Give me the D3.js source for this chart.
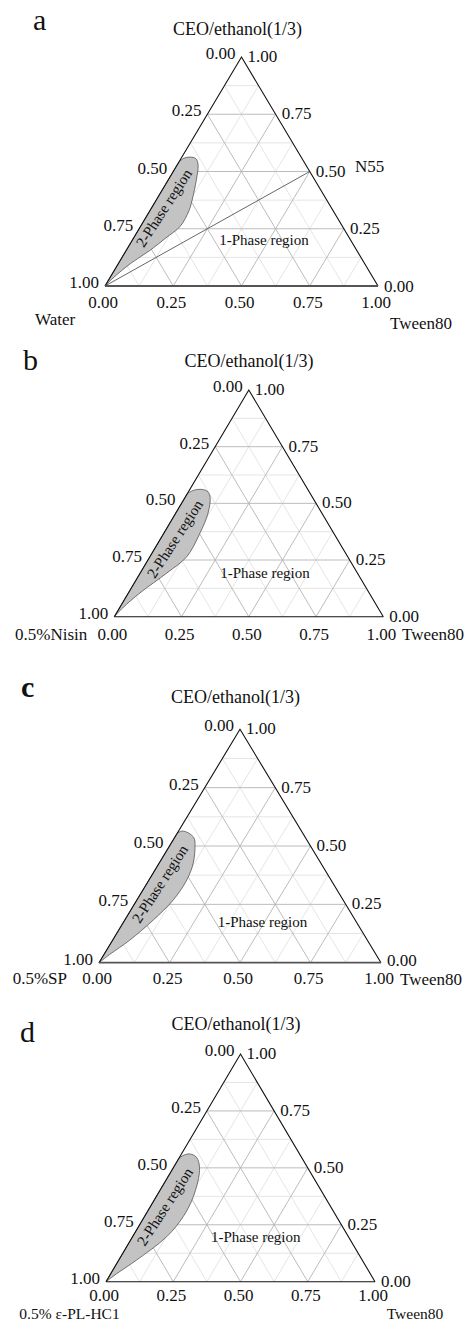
<!DOCTYPE html>
<html>
<head>
<meta charset="utf-8">
<script src="https://cdn.jsdelivr.net/npm/d3@7"></script>
<style>
  html, body { margin: 0; padding: 0; background: #fff; }
  svg text { font-family: "Liberation Serif", "Times New Roman", serif; fill: #111; }
</style>
</head>
<body>
<svg id="chart" width="471" height="1322"></svg>
<script>
// ---------------- DATA ----------------
const panelLetters = ["a", "b", "c", "d"];
const topComponent = "CEO/ethanol(1/3)";
const leftComponents = ["Water", "0.5%Nisin", "0.5%SP", "0.5% ε-PL-HC1"];
const rightComponent = "Tween80";
const tickValues = [0, 0.25, 0.5, 0.75, 1];
const tickLabels = ["0.00", "0.25", "0.50", "0.75", "1.00"];
const gridMajor = [0.25, 0.5, 0.75];
const gridMinor = [0.125, 0.375, 0.625, 0.875];
const twoPhaseLabel = "2-Phase region";
const onePhaseLabel = "1-Phase region";
const dilutionLabel = "N55";

// 2-phase region boundaries, as [CEO/ethanol fraction, Tween80 fraction] (water = rest)
const regionA = [[0,0],[0.541,0],[0.558,0.010],[0.563,0.030],[0.556,0.055],[0.528,0.077],[0.463,0.103],
                 [0.380,0.130],[0.330,0.143],[0.260,0.145],[0.210,0.118],[0.157,0.088],[0.099,0.045],[0.035,0.012],[0,0]];
const regionB = [[0,0],[0.544,0],[0.557,0.015],[0.562,0.038],[0.554,0.068],[0.528,0.092],[0.457,0.120],
                 [0.369,0.134],[0.265,0.137],[0.193,0.099],[0.105,0.043],[0.040,0.012],[0,0]];
const regionC = [[0,0],[0.554,0],[0.564,0.012],[0.556,0.039],[0.534,0.070],[0.505,0.088],[0.426,0.121],
                 [0.354,0.134],[0.269,0.129],[0.183,0.101],[0.097,0.061],[0.035,0.020],[0,0]];
const regionD = [[0,0],[0.542,0],[0.556,0.012],[0.561,0.032],[0.548,0.061],[0.521,0.085],[0.476,0.109],
                 [0.373,0.138],[0.285,0.144],[0.198,0.127],[0.095,0.066],[0.035,0.022],[0,0]];
const regions = [regionA, regionB, regionC, regionD];

// N55 dilution line (panel a): from pure water to CEO:Tween 1:1
const dilutionLine = [[0, 0], [0.5, 0.5]];

// ---------------- LAYOUT (positions / styles only) ----------------
const layouts = [
  { xL:105,   xR:378, yB:286,    yT:57,    letter:[33,30,"normal"], title:[237.5,35], bottomDy:22, lastRightDy:6,
    leftName:[35,325], rightName:[390,329], nameSize:17, two:[164,208], one:[264,245], n55:[355,172], bottomStroke:["#555",1.8] },
  { xL:114.3, xR:383.3, yB:616.7, yT:390,  letter:[23,370,"normal"], title:[249,366.7], bottomDy:23, lastRightDy:5,
    leftName:[15,640], rightName:[402,640], nameSize:17, two:[175,539], one:[265,578], bottomStroke:["#111",1.1] },
  { xL:99,    xR:381, yB:962.7,  yT:729.3, letter:[21,697,"bold"], title:[235.5,703], bottomDy:21, lastRightDy:3,
    leftName:[12.7,984], rightName:[400,985], nameSize:17, two:[160,884], one:[262.5,926.7], bottomStroke:["#555",1.8] },
  { xL:106,   xR:375, yB:1281.7, yT:1054,  letter:[20,1042,"normal"], title:[236,1030], bottomDy:19, lastRightDy:5,
    leftName:[19.3,1318.5], rightName:[386.7,1318.5], nameSize:15.5, two:[165,1206.7], one:[255.7,1241.7], bottomStroke:["#111",1.1] }
];

const svg = d3.select("#chart");
svg.append("rect").attr("width", 471).attr("height", 1322).attr("fill", "#fff");

layouts.forEach((L, i) => {
  const g = svg.append("g");
  const sx = d3.scaleLinear().domain([0, 1]).range([L.xL, L.xR]);
  const sy = d3.scaleLinear().domain([0, 1]).range([L.yB, L.yT]);
  const P = (c, t) => [sx(t + c / 2), sy(c)];

  // grid
  const gridLines = (vals) => {
    const segs = [];
    vals.forEach(v => {
      segs.push([P(v, 0), P(v, 1 - v)]);         // constant CEO
      segs.push([P(0, v), P(1 - v, v)]);         // constant Tween
      segs.push([P(0, 1 - v), P(1 - v, 0)]);     // constant water
    });
    return segs;
  };
  const line = d3.line();
  g.selectAll(".minor").data(gridLines(gridMinor)).join("path")
    .attr("d", d => line(d)).attr("stroke", "#e2e2e2").attr("stroke-width", 0.9).attr("fill", "none");
  g.selectAll(".major").data(gridLines(gridMajor)).join("path")
    .attr("d", d => line(d)).attr("stroke", "#b4b4b4").attr("stroke-width", 0.9).attr("fill", "none");

  // 2-phase region
  const reg = regions[i];
  const curvePts = reg.slice(1).map(p => P(p[0], p[1]));
  const curvePath = d3.line().curve(d3.curveCatmullRom.alpha(0.5))(curvePts);
  const v0 = P(reg[0][0], reg[0][1]);
  const dPath = `M${v0[0]},${v0[1]}L` + curvePath.slice(1) + "Z";
  g.append("path").attr("d", dPath).attr("fill", "#c3c3c3")
    .attr("stroke", "#555").attr("stroke-width", 0.8);

  // N55 line in panel a
  if (i === 0) {
    g.append("path").attr("d", line(dilutionLine.map(p => P(p[0], p[1]))))
      .attr("stroke", "#555").attr("stroke-width", 0.9).attr("fill", "none");
    g.append("text").attr("x", L.n55[0]).attr("y", L.n55[1]).attr("font-size", 17).text(dilutionLabel);
  }

  // triangle border
  const A = P(0, 0), B = P(0, 1), C = P(1, 0);
  g.append("path").attr("d", line([A, C, B])).attr("fill", "none").attr("stroke", "#111").attr("stroke-width", 1.1);
  g.append("path").attr("d", line([A, B])).attr("fill", "none")
    .attr("stroke", L.bottomStroke[0]).attr("stroke-width", L.bottomStroke[1]);

  // left axis (water): 0 at top, 1 at bottom-left
  tickValues.forEach((w, k) => {
    const p = P(1 - w, 0);
    g.append("text").attr("x", p[0] - 6).attr("y", p[1] + 2).attr("text-anchor", "end")
      .attr("font-size", 17).text(tickLabels[k]);
  });
  // right axis (CEO): 1 at top, 0 at bottom-right
  tickValues.forEach((c, k) => {
    const p = P(c, 1 - c);
    g.append("text").attr("x", p[0] + 6).attr("y", p[1] + (c === 0 ? L.lastRightDy : 5)).attr("text-anchor", "start")
      .attr("font-size", 17).text(tickLabels[k]);
  });
  // bottom axis (Tween80)
  tickValues.forEach((t, k) => {
    const p = P(0, t);
    g.append("text").attr("x", p[0] - 2).attr("y", p[1] + L.bottomDy).attr("text-anchor", "middle")
      .attr("font-size", 17).text(tickLabels[k]);
  });

  // names
  g.append("text").attr("x", L.title[0]).attr("y", L.title[1]).attr("text-anchor", "middle")
    .attr("font-size", 18).text(topComponent);
  g.append("text").attr("x", L.leftName[0]).attr("y", L.leftName[1]).attr("font-size", L.nameSize).text(leftComponents[i]);
  g.append("text").attr("x", L.rightName[0]).attr("y", L.rightName[1]).attr("font-size", L.nameSize).text(rightComponent);
  g.append("text").attr("x", L.letter[0]).attr("y", L.letter[1]).attr("font-size", 30)
    .attr("font-weight", L.letter[2]).text(panelLetters[i]);

  // region labels
  g.append("text").attr("transform", `translate(${L.two[0]},${L.two[1]}) rotate(-57)`)
    .attr("text-anchor", "middle").attr("dominant-baseline", "central").attr("font-size", 15).text(twoPhaseLabel);
  g.append("text").attr("x", L.one[0]).attr("y", L.one[1]).attr("text-anchor", "middle")
    .attr("font-size", 15).text(onePhaseLabel);
});
</script>
</body>
</html>
